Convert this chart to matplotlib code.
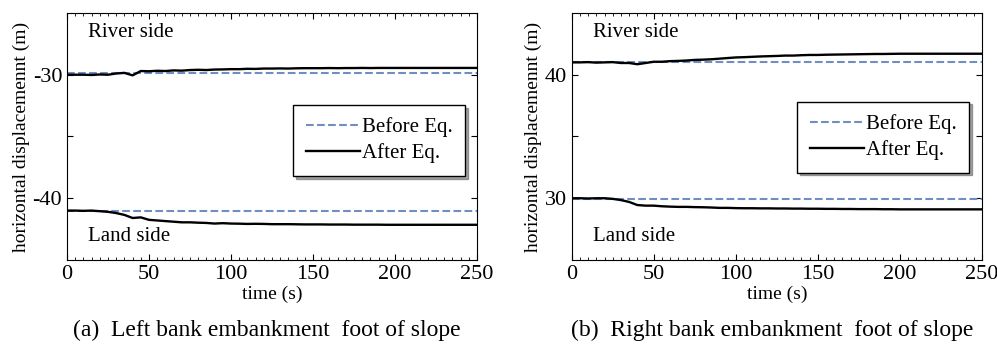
import numpy as np
import matplotlib
matplotlib.use('Agg')
from matplotlib import pyplot as plt

plt.rcParams['font.family'] = ['Liberation Serif', 'DejaVu Serif']

# time axis (s), one sample every 5 s
t = np.arange(0, 255, 5)

# (a) left bank
left_river_before = -29.9
left_land_before = -41.0
left_river_after = [-30.0, -30.0, -30.0, -30.02, -29.98, -30.0, -29.9, -29.85, -30.05, -29.7,
                    -29.72, -29.68, -29.7, -29.65, -29.67, -29.62, -29.6, -29.62, -29.58, -29.57,
                    -29.55, -29.55, -29.52, -29.53, -29.5, -29.5, -29.49, -29.5, -29.48, -29.47,
                    -29.47, -29.47, -29.46, -29.47, -29.46, -29.46, -29.45, -29.46, -29.45, -29.45,
                    -29.45, -29.45, -29.45, -29.45, -29.45, -29.45, -29.45, -29.45, -29.45, -29.45,
                    -29.45]
left_land_after = [-41.0, -41.0, -41.02, -41.0, -41.05, -41.1, -41.2, -41.35, -41.6, -41.55,
                   -41.75, -41.8, -41.85, -41.9, -41.95, -41.95, -41.98, -42.0, -42.05, -42.02,
                   -42.05, -42.06, -42.08, -42.07, -42.08, -42.1, -42.1, -42.1, -42.11, -42.12,
                   -42.12, -42.12, -42.13, -42.13, -42.13, -42.14, -42.14, -42.14, -42.14, -42.15,
                   -42.15, -42.15, -42.15, -42.15, -42.15, -42.15, -42.15, -42.15, -42.15, -42.15,
                   -42.15]

# (b) right bank
right_river_before = 41.0
right_land_before = 29.9
right_river_after = [41.0, 41.0, 41.02, 40.98, 41.0, 41.02, 40.95, 40.95, 40.85, 40.95,
                     41.05, 41.05, 41.1, 41.12, 41.15, 41.2, 41.22, 41.25, 41.3, 41.35,
                     41.4, 41.42, 41.45, 41.48, 41.5, 41.52, 41.55, 41.55, 41.58, 41.6,
                     41.6, 41.62, 41.63, 41.64, 41.65, 41.66, 41.67, 41.68, 41.68, 41.69,
                     41.7, 41.7, 41.7, 41.7, 41.7, 41.7, 41.7, 41.7, 41.7, 41.7,
                     41.7]
right_land_after = [30.0, 30.0, 29.98, 30.0, 30.0, 29.95, 29.85, 29.7, 29.45, 29.4,
                    29.4, 29.35, 29.32, 29.3, 29.3, 29.28, 29.27, 29.25, 29.22, 29.22,
                    29.2, 29.19, 29.19, 29.18, 29.18, 29.17, 29.17, 29.16, 29.16, 29.15,
                    29.15, 29.14, 29.14, 29.13, 29.13, 29.12, 29.12, 29.12, 29.11, 29.11,
                    29.1, 29.1, 29.1, 29.1, 29.1, 29.1, 29.1, 29.1, 29.1, 29.1,
                    29.1]

panels = [
    dict(rect=[0.0672, 0.2464, 0.4112, 0.716], ylim=(-45, -25), yticks=[-40, -35, -30],
         ylabels=['-40', '', '-30'], before=(left_river_before, left_land_before),
         after=(left_river_after, left_land_after), leg=(0.971, 0.628),
         caption='(a)  Left bank embankment  foot of slope'),
    dict(rect=[0.5734, 0.2464, 0.4115, 0.716], ylim=(25, 45), yticks=[30, 35, 40],
         ylabels=['30', '', '40'], before=(right_river_before, right_land_before),
         after=(right_river_after, right_land_after), leg=(0.969, 0.641),
         caption='(b)  Right bank embankment  foot of slope'),
]

dash_col = '#6f8fc0'

fig = plt.figure(figsize=(9.97, 3.45), dpi=100)
for p in panels:
    ax = fig.add_axes(p['rect'])
    ax.plot(t, np.full(len(t), p['before'][0]), '--', color=dash_col, lw=1.5, label='Before Eq.')
    ax.plot(t, p['after'][0], '-', color='black', lw=1.7, label='After Eq.')
    ax.plot(t, np.full(len(t), p['before'][1]), '--', color=dash_col, lw=1.5)
    ax.plot(t, p['after'][1], '-', color='black', lw=1.7)
    ax.set_xlim(0, 250)
    ax.set_ylim(*p['ylim'])
    ax.set_xticks([0, 50, 100, 150, 200, 250])
    ax.set_xticks(np.arange(0, 251, 5), minor=True)
    ax.set_yticks(p['yticks'])
    ax.set_yticklabels(p['ylabels'])
    ax.tick_params(direction='in', which='both', top=True, right=True, labelsize=16)
    ax.tick_params(which='major', length=4)
    ax.tick_params(which='minor', length=2)
    ax.set_xlabel('time (s)', fontsize=14, labelpad=1)
    ax.set_ylabel('horizontal displacemennt (m)', fontsize=14, labelpad=2)
    lo, hi = p['ylim']
    ax.text(13, hi - 1.6, 'River side', fontsize=15, va='center')
    ax.text(13, lo + 1.9, 'Land side', fontsize=15, va='center')
    ax.legend(loc='upper right', bbox_to_anchor=p['leg'], fontsize=15, frameon=True,
              fancybox=False, shadow=True, edgecolor='black', handlelength=2.6,
              handletextpad=0.1, borderpad=0.6, labelspacing=0.3, borderaxespad=0)
    cx = p['rect'][0] + p['rect'][2] / 2
    fig.text(cx - 0.005, 0.043, p['caption'], fontsize=17, ha='center', va='center')

fig.savefig('out.png', dpi=100)
